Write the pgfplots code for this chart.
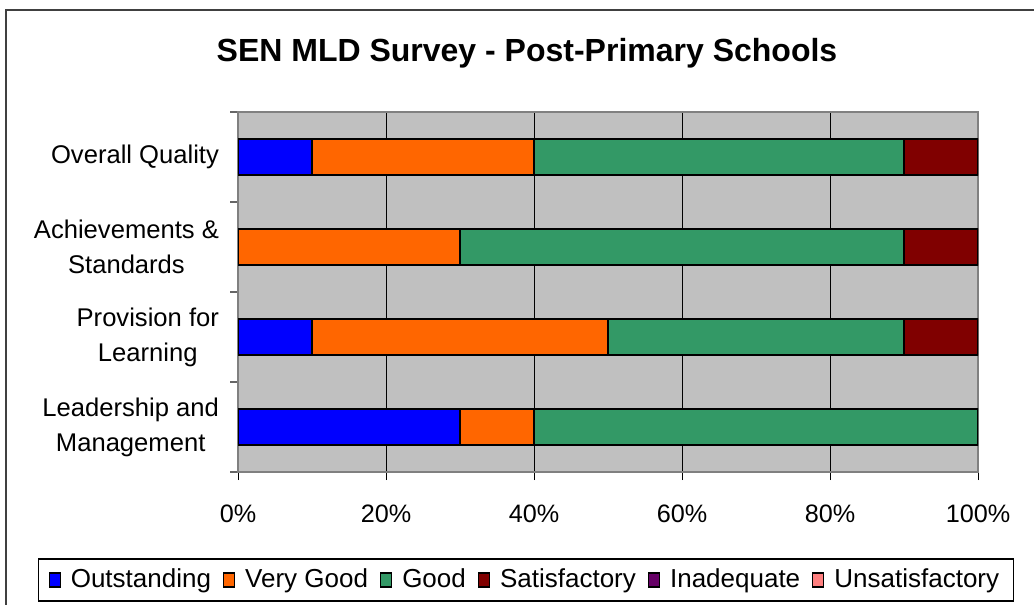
\documentclass[border=0pt]{standalone}
\usepackage{pgfplots}
\pgfplotsset{compat=1.18}
\usepackage{fontspec}
\setmainfont{Liberation Sans}
\definecolor{cOut}{RGB}{0,0,255}
\definecolor{cVG}{RGB}{255,102,0}
\definecolor{cGood}{RGB}{51,153,102}
\definecolor{cSat}{RGB}{128,0,0}
\definecolor{cInad}{RGB}{102,0,102}
\definecolor{cUns}{RGB}{255,128,128}
\definecolor{bgc}{RGB}{192,192,192}
\begin{document}
\begin{tikzpicture}
\path[use as bounding box] (0,0) rectangle (517pt,302.5pt);
\draw[line width=1pt, black!75] (3pt,0) -- (3pt,297.5pt) -- (517pt,297.5pt);
\node[font=\bfseries\fontsize{16}{19}\selectfont] at (263.5pt,276pt) {SEN MLD Survey - Post-Primary Schools};
\begin{axis}[
  at={(119pt,66.5pt)}, anchor=south west,
  scale only axis, width=370pt, height=180pt,
  xbar stacked, bar width=18pt,
  xmin=0, xmax=100, ymin=-0.5, ymax=3.5,
  axis background/.style={fill=bgc},
  axis line style={draw=black!50, line width=0.8pt},
  /pgf/number format/assume math mode=true,
  xtick={0,20,40,60,80,100},
  xticklabel={\pgfmathprintnumber{\tick}\%},
  xmajorgrids, grid style={black, line width=0.5pt},
  tick align=outside, tick pos=left,
  major tick length=4pt,
  xtick style={black, line width=0.5pt},
  ytick={-0.5,0.5,1.5,2.5,3.5}, yticklabels={},
  ytick style={draw=black!60, line width=0.8pt},
  extra y ticks={0,1,2,3},
  extra y tick labels={Leadership and\\Management, Provision for\\Learning, Achievements \&\\Standards, Overall Quality},
  extra y tick style={major tick length=0pt, ytick style={draw=none}},
  yticklabel style={font=\fontsize{12.8}{17.5}\selectfont, align=center, xshift=-6pt},
  xticklabel style={font=\fontsize{12.6}{15}\selectfont, yshift=-9pt},
  legend columns=6,
  legend style={at={(0.389,-0.3)}, anchor=center, draw=black, line width=0.6pt,
    font=\fontsize{13}{15}\selectfont, inner xsep=5pt, inner ysep=3pt,
    /tikz/every odd column/.append style={column sep=3pt},
    /tikz/every even column/.append style={column sep=4pt}},
  legend image code/.code={\draw[#1, draw=black, line width=0.6pt] (0pt,-3.5pt) rectangle (5.5pt,3.5pt);},
  every axis plot/.append style={draw=black, line width=0.75pt},
]
\addplot[fill=cOut] coordinates {(10,3) (0,2) (10,1) (30,0)};
\addplot[fill=cVG] coordinates {(30,3) (30,2) (40,1) (10,0)};
\addplot[fill=cGood] coordinates {(50,3) (60,2) (40,1) (60,0)};
\addplot[fill=cSat] coordinates {(10,3) (10,2) (10,1) (0,0)};
\addplot[fill=cInad] coordinates {(0,3) (0,2) (0,1) (0,0)};
\addplot[fill=cUns] coordinates {(0,3) (0,2) (0,1) (0,0)};
\legend{Outstanding, Very Good, Good, Satisfactory, Inadequate, Unsatisfactory}
\end{axis}
\end{tikzpicture}
\end{document}
